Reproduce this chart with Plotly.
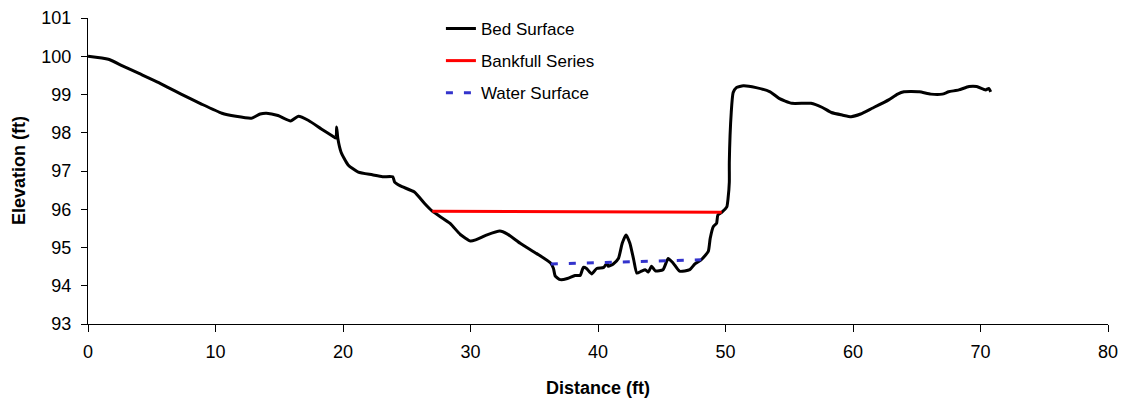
import plotly.graph_objects as go

# Bed surface profile (distance ft, elevation ft)
bed_x = [0.0, 1.6, 2.7, 4.0, 5.55, 6.3, 7.3, 8.9, 10.5, 11.6, 12.8, 13.5, 14.0, 14.9, 15.9,
         16.5, 17.3, 18.3, 19.2, 19.45, 19.5, 19.6, 19.85, 20.4, 21.2, 22.3, 23.1, 23.9,
         24.05, 24.5, 25.6, 26.4, 27.0, 28.4, 29.2, 30.0, 30.4, 31.3, 32.3, 32.9, 33.9,
         35.2, 36.3, 36.5, 36.65, 37.05, 37.6, 38.2, 38.6, 38.85, 39.1, 39.5, 39.9, 40.45,
         40.7, 40.8, 41.2, 41.6, 41.9, 42.2, 42.5, 42.8, 43.05, 43.4, 43.7, 43.95, 44.2,
         44.5, 45.1, 45.5, 45.9, 46.4, 47.2, 47.6, 48.1, 48.65, 48.8, 49.05, 49.3, 49.4,
         49.7, 50.1, 50.2, 50.3, 50.3, 50.45, 50.6, 50.85, 51.4, 52.4, 53.5, 54.2, 55.2,
         56.7, 57.6, 58.3, 59.2, 59.85, 60.6, 61.5, 62.8, 63.5, 64.0, 65.2, 66.1, 67.0,
         67.5, 68.3, 69.1, 69.7, 70.4, 70.65, 70.8]
bed_y = [100.0, 99.92, 99.75, 99.55, 99.31, 99.18, 99.01, 98.75, 98.51, 98.43, 98.38, 98.49,
         98.51, 98.45, 98.31, 98.43, 98.32, 98.10, 97.91, 97.86, 98.15, 97.84, 97.49, 97.16,
         96.97, 96.90, 96.85, 96.85, 96.71, 96.61, 96.45, 96.15, 95.95, 95.63, 95.34, 95.17,
         95.20, 95.33, 95.43, 95.35, 95.11, 94.84, 94.59, 94.46, 94.25, 94.16, 94.19, 94.27,
         94.27, 94.48, 94.45, 94.31, 94.45, 94.48, 94.59, 94.51, 94.57, 94.71, 95.11, 95.33,
         95.11, 94.68, 94.33, 94.38, 94.42, 94.36, 94.51, 94.39, 94.42, 94.71, 94.59, 94.38,
         94.42, 94.57, 94.68, 94.90, 95.24, 95.55, 95.63, 95.85, 95.92, 96.06, 96.28, 96.71,
         97.23, 98.53, 99.05, 99.18, 99.23, 99.18, 99.07, 98.90, 98.77, 98.77, 98.66, 98.53,
         98.46, 98.42, 98.49, 98.64, 98.86, 99.01, 99.07, 99.07, 99.01, 99.01, 99.07, 99.12,
         99.21, 99.21, 99.12, 99.16, 99.07]

# Bankfull line
bank_x = [27.0, 49.7]
bank_y = [95.95, 95.92]

# Water surface line
water_x = [36.3, 48.1]
water_y = [94.57, 94.68]

x_ticks = [0, 10, 20, 30, 40, 50, 60, 70, 80]
y_ticks = [93, 94, 95, 96, 97, 98, 99, 100, 101]

FONT = "Liberation Sans, Arial, sans-serif"

fig = go.Figure()
fig.add_trace(go.Scatter(x=bed_x, y=bed_y, mode="lines", name="Bed Surface",
                         legendgroup="a",
                         line=dict(color="black", width=3, shape="spline", smoothing=0.5)))
fig.add_trace(go.Scatter(x=bank_x, y=bank_y, mode="lines", name="Bankfull Series",
                         legendgroup="b",
                         line=dict(color="#FF0000", width=3)))
fig.add_trace(go.Scatter(x=water_x, y=water_y, mode="lines", name="Water Surface",
                         legendgroup="c",
                         line=dict(color="#3333CC", width=3, dash="7px,11px")))

fig.update_layout(
    width=1121, height=396,
    margin=dict(l=80, r=21, t=10, b=80, autoexpand=False),
    paper_bgcolor="white", plot_bgcolor="white",
    font=dict(family=FONT, size=18, color="black"),
    showlegend=True,
    legend=dict(x=0.346, y=1.023, xanchor="left", yanchor="top",
                bgcolor="rgba(0,0,0,0)", tracegroupgap=7,
                font=dict(family=FONT, size=17, color="black")),
    xaxis=dict(range=[0, 80], tickvals=x_ticks, ticks="outside", ticklen=7,
               tickcolor="black", showline=True, linecolor="black", linewidth=1,
               showgrid=False, zeroline=False, mirror=False, automargin=False,
               ticklabelstandoff=4, ticklabeloverflow="allow",
               tickfont=dict(family=FONT, size=18)),
    yaxis=dict(range=[93, 101], tickvals=y_ticks, ticks="outside", ticklen=6,
               tickcolor="black", showline=True, linecolor="black", linewidth=1,
               showgrid=False, zeroline=False, mirror=False, ticklabelstandoff=6,
               ticklabeloverflow="allow",
               automargin=False, tickfont=dict(family=FONT, size=18)),
    annotations=[
        dict(text="<b>Distance (ft)</b>", xref="paper", yref="paper", x=0.5, y=-0.209,
             xanchor="center", yanchor="middle", showarrow=False,
             font=dict(family=FONT, size=18)),
        dict(text="<b>Elevation (ft)</b>", xref="paper", yref="paper", x=-0.0676, y=0.5,
             xanchor="center", yanchor="middle", showarrow=False, textangle=-90,
             font=dict(family=FONT, size=18)),
    ],
)

fig.write_html("out.html")
